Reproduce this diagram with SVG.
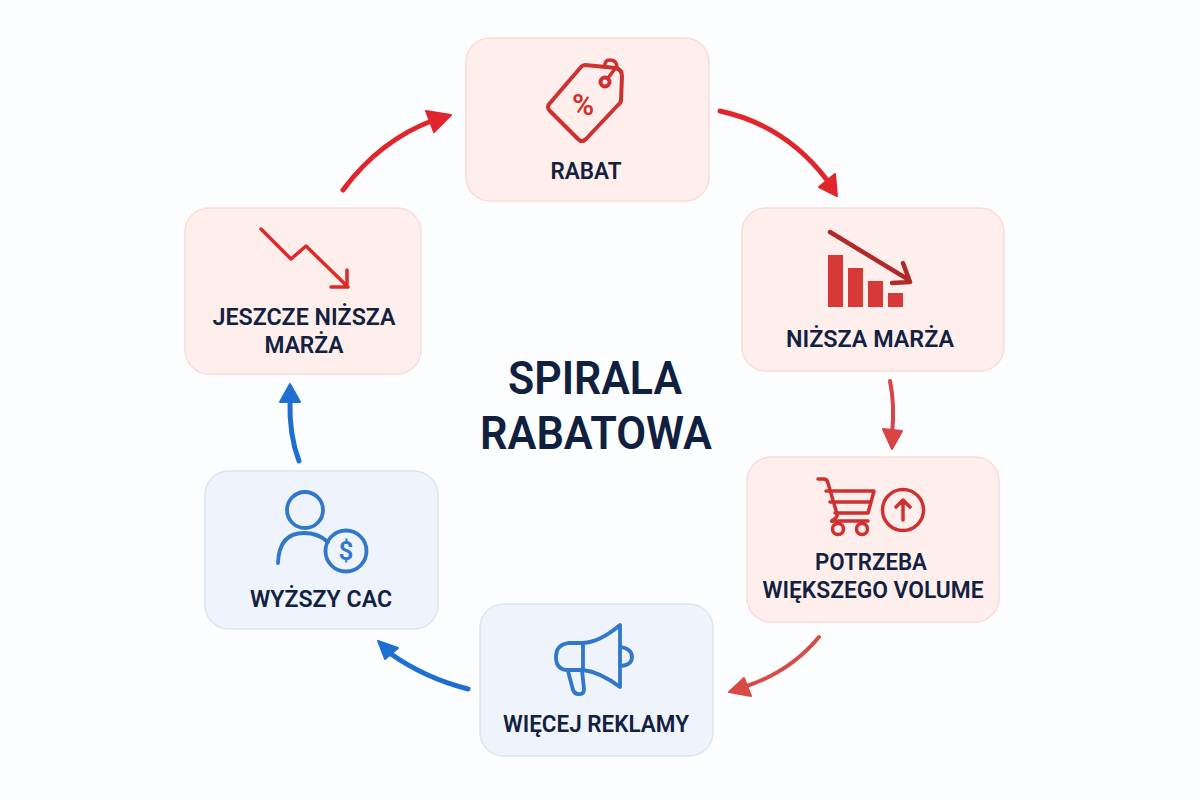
<svg xmlns="http://www.w3.org/2000/svg" width="1200" height="800" viewBox="0 0 1200 800">
<style>
text{font-family:Roboto,"Noto Sans","Liberation Sans",sans-serif;font-weight:600;fill:#12213f;text-anchor:middle}
.l{font-size:24px}
.t{font-size:47px;fill:#10203f}
.red{fill:#feefed;stroke:#f9dcd9;stroke-width:1.500}
.blue{fill:#eff3fb;stroke:#dde4f0;stroke-width:1.500}
.ir{fill:none;stroke:#cf3030;stroke-width:3.500;stroke-linecap:round;stroke-linejoin:round}
.ib{fill:none;stroke:#2f78cc;stroke-width:3.800;stroke-linecap:round;stroke-linejoin:round}
.c{fill:none;stroke-linecap:round;stroke-linejoin:round}
.h{stroke-linejoin:round;stroke-width:2}
</style>
<rect width="1200" height="800" fill="#fcfdfe"/>
<g id="connectors">
<path class="c" d="M343 190Q380 140 434 120" stroke="#e0262c" stroke-width="5"/>
<path class="h" d="M426 111L451 115L434 132Z" fill="#e0262c" stroke="#e0262c"/>
<path class="c" d="M720 111Q785 125 827 180" stroke="#e0262c" stroke-width="5"/>
<path class="h" d="M835 174L837 196L819 187Z" fill="#e0262c" stroke="#e0262c"/>
<path class="c" d="M890 381Q895 405 892 435" stroke="#d94444" stroke-width="4"/>
<path class="h" d="M883 429L892 449L902 431Z" fill="#d94444" stroke="#d94444"/>
<path class="c" d="M819 637Q790 672 744 687" stroke="#d94a46" stroke-width="4"/>
<path class="h" d="M744 678L729 692L751 696Z" fill="#d94a46" stroke="#d94a46"/>
<path class="c" d="M468 689Q425 678 391 654" stroke="#1f6fd0" stroke-width="5"/>
<path class="h" d="M378 641L398 648L385 659Z" fill="#1f6fd0" stroke="#1f6fd0"/>
<path class="c" d="M299 461Q289 435 290 400" stroke="#1f6fd0" stroke-width="5"/>
<path class="h" d="M290 384L280 402L300 402Z" fill="#1f6fd0" stroke="#1f6fd0"/>
</g>
<g id="title"><text class="t" x="595" y="394" textLength="174" lengthAdjust="spacingAndGlyphs">SPIRALA</text><text class="t" x="596" y="449" textLength="232" lengthAdjust="spacingAndGlyphs">RABATOWA</text></g>
<g id="node-rabat">
<rect class="red" x="466" y="38" width="243" height="163" rx="24"/>
<path class="ir" style="stroke-width:4" d="M585 65L616 68Q622 70 622 76L621 100Q621 103 618 105L586 139Q582 143 578 139L550 111Q546 107 550 103L581 67Q583 65 585 65Z"/>
<circle class="ir" style="stroke-width:4" cx="605" cy="82" r="4.500"/><path class="ir" d="M608 78L617 66Q616 60 610 60Q604 60 605 67"/>
<text x="583" y="115" style="font-size:30px;font-weight:600;fill:#cf3030">%</text>
<text class="l" x="586" y="179" textLength="71" lengthAdjust="spacingAndGlyphs">RABAT</text>
</g>
<g id="node-nizsza-marza">
<rect class="red" x="742" y="208" width="262" height="163" rx="24"/>
<path d="M828 255h15v52h-15zM848 268h15v39h-15zM868 281h15v26h-15zM888 293h15v14h-15z" fill="#d53a38"/>
<path class="c" d="M830 232L909 280M903 263L910 282L892 283" stroke="#b02a2c" stroke-width="4.500"/>
<text class="l" x="870" y="347" textLength="168" lengthAdjust="spacingAndGlyphs">NIŻSZA MARŻA</text>
</g>
<g id="node-potrzeba">
<rect class="red" x="747" y="457" width="252" height="165" rx="24"/>
<path class="ir" d="M818 479H824Q827 479 828 483L837 514Q838 517 833 520Q830 522 834 521H868M826 491H874L868 513H835M830 502H871"/>
<circle class="ir" cx="838" cy="529" r="5.500"/><circle class="ir" cx="862" cy="529" r="5.500"/>
<circle class="ir" cx="903" cy="510" r="20.500"/><path class="ir" d="M903 520V500M896 507L903 500L910 507"/>
<text class="l" x="871" y="570" textLength="112" lengthAdjust="spacingAndGlyphs">POTRZEBA</text>
<text class="l" x="873" y="598" textLength="221" lengthAdjust="spacingAndGlyphs">WIĘKSZEGO VOLUME</text>
</g>
<g id="node-wiecej-reklamy">
<rect class="blue" x="480" y="604" width="233" height="152" rx="24"/>
<path class="ib" d="M583 643H568Q556 645 556 657Q556 670 568 670H583ZM583 643Q600 642 620 625V687Q600 672 583 670ZM621 647Q632 649 632 657Q632 665 621 666M568 671L573 690Q575 695 580 694Q584 694 584 689L582 670"/>
<text class="l" x="596" y="732" textLength="186" lengthAdjust="spacingAndGlyphs">WIĘCEJ REKLAMY</text>
</g>
<g id="node-wyzszy-cac">
<rect class="blue" x="205" y="471" width="233" height="158" rx="24"/>
<circle class="ib" cx="305" cy="510" r="18"/>
<path class="ib" d="M278 563Q279 533 304 533Q318 533 328 542"/>
<circle class="ib" cx="346" cy="551" r="20.500"/>
<text x="346" y="560" style="font-size:26px;font-weight:600;fill:#2f78cc">$</text>
<text class="l" x="321" y="607" textLength="142" lengthAdjust="spacingAndGlyphs">WYŻSZY CAC</text>
</g>
<g id="node-jeszcze">
<rect class="red" x="185" y="208" width="236" height="166" rx="24"/>
<path class="c" d="M261 229L291 259L306 246L348 287M347 270V287H331" stroke="#df2a2a" stroke-width="3.500"/>
<text class="l" x="304" y="325" textLength="183" lengthAdjust="spacingAndGlyphs">JESZCZE NIŻSZA</text>
<text class="l" x="304" y="353" textLength="79" lengthAdjust="spacingAndGlyphs">MARŻA</text>
</g>
</svg>
